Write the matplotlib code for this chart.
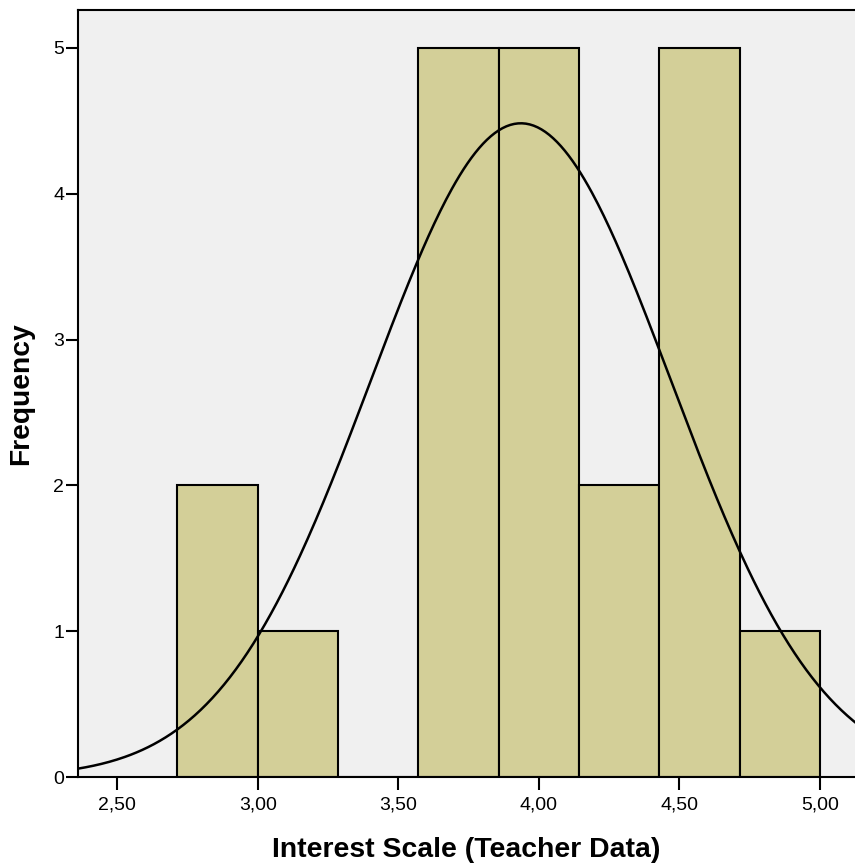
import numpy as np
import matplotlib.pyplot as plt

plt.rcParams["font.family"] = ["Liberation Sans", "DejaVu Sans"]

# histogram bins (Interest Scale) and counts
BIN_EDGES = [2.714, 3.000, 3.286, 3.571, 3.857, 4.143, 4.429, 4.714, 5.000]
COUNTS = [2, 1, 0, 5, 5, 2, 5, 1]

# fitted normal curve parameters
MEAN = 3.936
STD_DEV = 0.534
N = 21

X_TICKS = [2.5, 3.0, 3.5, 4.0, 4.5, 5.0]
X_TICK_LABELS = ["2,50", "3,00", "3,50", "4,00", "4,50", "5,00"]
Y_TICKS = [0, 1, 2, 3, 4, 5]

BAR_COLOR = "#d3cf98"
BG_COLOR = "#f0f0f0"

fig = plt.figure(figsize=(8.55, 8.68), dpi=100)
ax = fig.add_axes([0.0912, 0.1048, 0.9088, 0.8837])
ax.set_facecolor(BG_COLOR)

edges = np.array(BIN_EDGES)
widths = np.diff(edges)
ax.bar(edges[:-1], COUNTS, width=widths, align="edge",
       color=BAR_COLOR, edgecolor="black", linewidth=1.5, zorder=2)

x_lo, x_hi = 2.36, 5.125
xs = np.linspace(x_lo, x_hi, 400)
bin_w = widths.mean()
ys = N * bin_w / (STD_DEV * np.sqrt(2 * np.pi)) * np.exp(-0.5 * ((xs - MEAN) / STD_DEV) ** 2)
ax.plot(xs, ys, color="black", linewidth=1.8, zorder=3)

ax.set_xlim(x_lo, x_hi)
ax.set_ylim(0, 5.26)
ax.set_xticks(X_TICKS)
ax.set_xticklabels(X_TICK_LABELS)
ax.set_yticks(Y_TICKS)

ax.spines["right"].set_visible(False)
for side in ["left", "bottom", "top"]:
    ax.spines[side].set_linewidth(1.5)
ax.tick_params(axis="both", direction="out", length=9, width=1.5,
               labelsize=14)
ax.tick_params(axis="x", pad=5)
ax.tick_params(axis="y", pad=1)

ax.set_xlabel("Interest Scale (Teacher Data)", fontsize=20.4, fontweight="bold", labelpad=17)
ax.set_ylabel("Frequency", fontsize=20.3, fontweight="bold", labelpad=14)

fig.savefig("out.png", dpi=100)
